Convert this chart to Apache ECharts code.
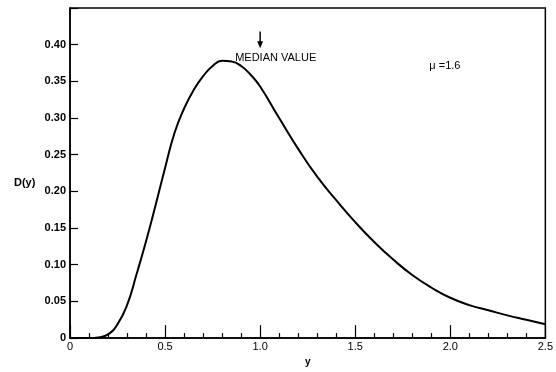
<!DOCTYPE html>
<html>
<head>
<meta charset="utf-8">
<script src="https://cdn.jsdelivr.net/npm/echarts@6/dist/echarts.min.js"></script>
<style>
html, body { margin: 0; padding: 0; background: #fff; }
#main { width: 556px; height: 372px; }
</style>
</head>
<body>
<div id="main"></div>
<script>
// y values
var xVals = [0, 0.1, 0.15, 0.2, 0.25, 0.3, 0.35, 0.4, 0.45, 0.5, 0.55, 0.6, 0.65, 0.7, 0.75, 0.8, 0.85, 0.9, 0.95, 1.0, 1.1, 1.2, 1.3, 1.4, 1.5, 1.6, 1.7, 1.8, 1.9, 2.0, 2.1, 2.2, 2.3, 2.4, 2.5];
var dVals = [0, 0, 0.001, 0.005, 0.019, 0.045, 0.087, 0.132, 0.181, 0.232, 0.28, 0.313, 0.338, 0.357, 0.371, 0.378, 0.377, 0.371, 0.359, 0.343, 0.3, 0.258, 0.22, 0.188, 0.158, 0.131, 0.107, 0.086, 0.069, 0.055, 0.045, 0.038, 0.031, 0.025, 0.019];
var xTicks = ['0', '0.5', '1.0', '1.5', '2.0', '2.5'];
var yTicks = ['0', '0.05', '0.10', '0.15', '0.20', '0.25', '0.30', '0.35', '0.40'];
var medianValue = 1.0;
var muText = 'μ =1.6';

var myChart = echarts.init(document.getElementById('main'));

var lineData = [];
for (var i = 0; i < xVals.length; i++) {
	lineData.push([xVals[i], dVals[i]]);
}

var option = {
	backgroundColor: '#fff',
	animation: false,
	grid: {
		left: 70, top: 8, right: 8, bottom: 25,
		show: true, borderColor: '#000', borderWidth: 1.5
	},
	xAxis: {
		type: 'value',
		min: 0, max: 2.5, interval: 0.5,
		name: 'y', nameLocation: 'middle', nameGap: 17,
		nameTextStyle: { color: '#000', fontSize: 10, fontWeight: 'bold', fontFamily: 'Liberation Sans' },
		axisLine: { lineStyle: { color: '#000', width: 1.5 } },
		axisTick: { inside: true, length: 13, lineStyle: { color: '#000', width: 1.2 } },
		minorTick: { show: true, splitNumber: 5, length: 5, lineStyle: { color: '#000', width: 1.2 } },
		splitLine: { show: false },
		axisLabel: {
			color: '#000', fontSize: 11, fontFamily: 'Liberation Sans', margin: 3,
			formatter: function (v) { return xTicks[Math.round(v / 0.5)]; }
		}
	},
	yAxis: {
		type: 'value',
		min: 0, max: 0.45, interval: 0.05,
		axisLine: { lineStyle: { color: '#000', width: 1.5 } },
		axisTick: { inside: true, length: 8, lineStyle: { color: '#000', width: 1.2 } },
		splitLine: { show: false },
		axisLabel: {
			color: '#000', fontSize: 11, fontWeight: 'bold', fontFamily: 'Liberation Sans', margin: 4,
			formatter: function (v) {
				var k = Math.round(v / 0.05);
				return k < yTicks.length ? yTicks[k] : '';
			}
		}
	},
	series: [{
		type: 'line',
		data: lineData,
		smooth: 0.5,
		showSymbol: false,
		lineStyle: { color: '#000', width: 2 }
	}]
};
myChart.setOption(option);

// annotations placed from data coordinates
var arrowTop = myChart.convertToPixel({ gridIndex: 0 }, [medianValue, 0.418]);
var arrowEnd = myChart.convertToPixel({ gridIndex: 0 }, [medianValue, 0.395]);
var muPos = myChart.convertToPixel({ gridIndex: 0 }, [1.89, 0.378]);
myChart.setOption({
	graphic: [
		{
			type: 'line',
			shape: { x1: arrowTop[0], y1: arrowTop[1], x2: arrowEnd[0], y2: arrowEnd[1] - 5 },
			style: { stroke: '#000', lineWidth: 1.5 }
		},
		{
			type: 'polygon',
			shape: { points: [[arrowEnd[0] - 3, arrowEnd[1] - 7], [arrowEnd[0] + 3, arrowEnd[1] - 7], [arrowEnd[0], arrowEnd[1]]] },
			style: { fill: '#000' }
		},
		{
			type: 'text',
			x: arrowEnd[0] - 25, y: arrowEnd[1] + 4,
			style: { text: 'MEDIAN VALUE', fill: '#000', font: '11px Liberation Sans', letterSpacing: 2 }
		},
		{
			type: 'text',
			x: muPos[0], y: muPos[1],
			style: { text: muText, fill: '#000', font: '11px Liberation Sans' }
		},
		{
			type: 'text',
			x: 14, y: 177,
			style: { text: 'D(y)', fill: '#000', font: 'bold 11px Liberation Sans' }
		}
	]
});

window.addEventListener('resize', function () {
	myChart.resize();
});
</script>
</body>
</html>
